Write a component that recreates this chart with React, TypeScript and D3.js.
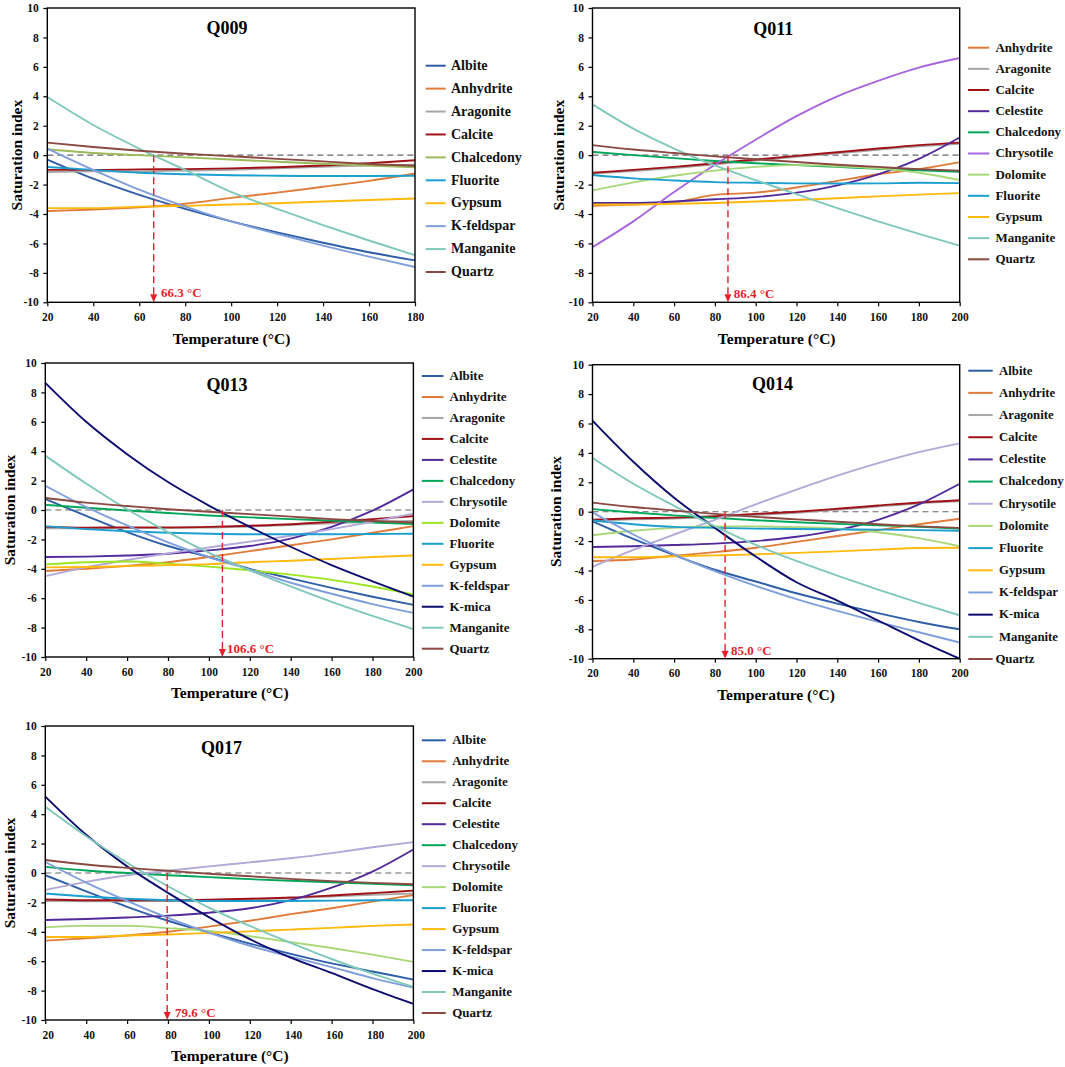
import React, { useEffect, useRef } from "react";
import * as d3 from "d3";

const temps180 = [20, 40, 60, 80, 100, 120, 140, 160, 180];
const temps200 = [20, 40, 60, 80, 100, 120, 140, 160, 180, 200];
const yTicks = [-10, -8, -6, -4, -2, 0, 2, 4, 6, 8, 10];

const q009: [string, number[]][] = [
  ["Albite", [-0.3, -1.6, -2.7, -3.65, -4.5, -5.25, -5.95, -6.6, -7.15]],
  ["Anhydrite", [-3.8, -3.7, -3.55, -3.3, -2.9, -2.55, -2.15, -1.75, -1.25]],
  ["Aragonite", [-1.15, -1.1, -1.1, -1.05, -1.0, -0.9, -0.8, -0.7, -0.65]],
  ["Calcite", [-1.0, -1.0, -0.97, -0.95, -0.9, -0.82, -0.7, -0.55, -0.35]],
  ["Chalcedony", [0.4, 0.15, 0, -0.15, -0.3, -0.45, -0.58, -0.7, -0.82]],
  ["Fluorite", [-0.8, -1.0, -1.2, -1.3, -1.37, -1.4, -1.42, -1.42, -1.4]],
  ["Gypsum", [-3.6, -3.6, -3.5, -3.45, -3.35, -3.27, -3.15, -3.05, -2.95]],
  ["K-feldspar", [0.45, -1.0, -2.35, -3.5, -4.5, -5.35, -6.15, -6.9, -7.6]],
  ["Manganite", [3.95, 2.05, 0.45, -1.0, -2.5, -3.65, -4.75, -5.8, -6.8]],
  ["Quartz", [0.85, 0.55, 0.3, 0.1, -0.07, -0.25, -0.42, -0.6, -0.72]],
];

const q011: [string, number[]][] = [
  ["Anhydrite", [-3.45, -3.35, -3.2, -2.7, -2.55, -2.2, -1.75, -1.3, -0.95, -0.47]],
  ["Aragonite", [-1.25, -1.08, -0.87, -0.62, -0.37, -0.12, 0.12, 0.37, 0.6, 0.77]],
  ["Calcite", [-1.2, -1.0, -0.8, -0.55, -0.3, -0.05, 0.2, 0.45, 0.68, 0.85]],
  ["Celestite", [-3.25, -3.25, -3.15, -3.0, -2.85, -2.55, -2.05, -1.3, -0.25, 1.2]],
  ["Chalcedony", [0.22, 0, -0.2, -0.4, -0.55, -0.68, -0.8, -0.92, -1.03, -1.13]],
  ["Chrysotile", [-6.25, -4.5, -2.5, -0.65, 1.05, 2.65, 4.0, 5.05, 5.95, 6.6]],
  ["Dolomite", [-2.4, -1.85, -1.4, -1.05, -0.8, -0.68, -0.75, -0.9, -1.2, -1.7]],
  ["Fluorite", [-1.35, -1.58, -1.72, -1.83, -1.88, -1.92, -1.93, -1.92, -1.88, -1.9]],
  ["Gypsum", [-3.35, -3.35, -3.3, -3.25, -3.15, -3.05, -2.93, -2.8, -2.68, -2.58]],
  ["Manganite", [3.45, 1.8, 0.45, -0.7, -1.7, -2.65, -3.6, -4.5, -5.35, -6.15]],
  ["Quartz", [0.68, 0.38, 0.15, -0.08, -0.28, -0.47, -0.65, -0.8, -0.95, -1.05]],
];

const q013: [string, number[]][] = [
  ["Albite", [0.75, -0.4, -1.5, -2.45, -3.2, -4.0, -4.65, -5.3, -5.9, -6.45]],
  ["Anhydrite", [-4.15, -4.0, -3.8, -3.55, -3.2, -2.8, -2.4, -2.0, -1.55, -1.1]],
  ["Aragonite", [-1.25, -1.25, -1.22, -1.22, -1.2, -1.12, -1.02, -0.9, -0.8, -0.75]],
  ["Calcite", [-1.15, -1.2, -1.18, -1.18, -1.15, -1.07, -0.97, -0.8, -0.62, -0.42]],
  ["Celestite", [-3.2, -3.17, -3.1, -2.98, -2.75, -2.45, -1.95, -1.15, -0.05, 1.4]],
  ["Chalcedony", [0.35, 0.15, -0.03, -0.2, -0.37, -0.5, -0.62, -0.72, -0.85, -0.95]],
  ["Chrysotile", [-4.5, -3.9, -3.4, -2.95, -2.55, -2.15, -1.75, -1.3, -0.8, -0.25]],
  ["Dolomite", [-3.7, -3.55, -3.5, -3.65, -3.85, -4.1, -4.4, -4.75, -5.2, -5.75]],
  ["Fluorite", [-1.1, -1.3, -1.45, -1.55, -1.62, -1.65, -1.65, -1.65, -1.63, -1.62]],
  ["Gypsum", [-3.9, -3.88, -3.82, -3.75, -3.68, -3.55, -3.45, -3.33, -3.2, -3.1]],
  ["K-feldspar", [1.65, 0.2, -1.05, -2.2, -3.2, -4.05, -4.95, -5.7, -6.4, -7.0]],
  ["K-mica", [8.65, 6.0, 3.8, 1.9, 0.3, -1.15, -2.5, -3.75, -4.85, -5.9]],
  ["Manganite", [3.7, 1.8, 0.05, -1.5, -2.9, -4.1, -5.2, -6.25, -7.2, -8.1]],
  ["Quartz", [0.82, 0.5, 0.27, 0.05, -0.12, -0.28, -0.45, -0.62, -0.75, -0.85]],
];

const q014: [string, number[]][] = [
  ["Albite", [-0.65, -1.85, -2.95, -3.95, -4.75, -5.55, -6.25, -6.9, -7.5, -8.0]],
  ["Anhydrite", [-3.35, -3.25, -3.0, -2.75, -2.45, -2.05, -1.65, -1.25, -0.85, -0.48]],
  ["Aragonite", [-0.62, -0.52, -0.47, -0.37, -0.22, -0.07, 0.13, 0.35, 0.56, 0.7]],
  ["Calcite", [-0.55, -0.45, -0.4, -0.3, -0.15, 0, 0.2, 0.42, 0.63, 0.78]],
  ["Celestite", [-2.4, -2.35, -2.27, -2.17, -2.0, -1.7, -1.25, -0.55, 0.5, 1.9]],
  ["Chalcedony", [0.18, -0.05, -0.25, -0.42, -0.58, -0.72, -0.83, -0.93, -1.02, -1.15]],
  ["Chrysotile", [-3.75, -2.6, -1.55, -0.55, 0.5, 1.5, 2.45, 3.3, 4.05, 4.65]],
  ["Dolomite", [-1.6, -1.3, -1.1, -1.0, -1.0, -1.05, -1.15, -1.4, -1.8, -2.35]],
  ["Fluorite", [-0.6, -0.85, -1.03, -1.1, -1.15, -1.18, -1.2, -1.22, -1.25, -1.3]],
  ["Gypsum", [-3.1, -3.1, -3.03, -2.97, -2.9, -2.8, -2.7, -2.58, -2.47, -2.45]],
  ["K-feldspar", [-0.05, -1.55, -2.9, -4.05, -5.05, -5.95, -6.75, -7.5, -8.2, -8.9]],
  ["K-mica", [6.2, 3.4, 0.95, -1.1, -3.05, -4.8, -6.05, -7.4, -8.75, -10]],
  ["Manganite", [3.65, 1.9, 0.4, -1.0, -2.25, -3.35, -4.35, -5.3, -6.2, -7.05]],
  ["Quartz", [0.62, 0.32, 0.08, -0.15, -0.35, -0.52, -0.68, -0.85, -1.0, -1.1]],
];

const q017: [string, number[]][] = [
  ["Albite", [-0.15, -1.25, -2.3, -3.25, -4.05, -4.8, -5.5, -6.15, -6.7, -7.25]],
  ["Anhydrite", [-4.6, -4.45, -4.25, -4.0, -3.65, -3.25, -2.8, -2.4, -1.95, -1.5]],
  ["Aragonite", [-1.9, -1.92, -1.92, -1.9, -1.88, -1.8, -1.72, -1.6, -1.48, -1.4]],
  ["Calcite", [-1.8, -1.85, -1.85, -1.85, -1.82, -1.75, -1.67, -1.53, -1.37, -1.2]],
  ["Celestite", [-3.2, -3.13, -3.03, -2.9, -2.7, -2.4, -1.85, -1.0, 0.1, 1.6]],
  ["Chalcedony", [0.42, 0.17, 0, -0.15, -0.28, -0.42, -0.53, -0.63, -0.73, -0.83]],
  ["Chrysotile", [-1.15, -0.6, -0.15, 0.15, 0.45, 0.72, 1.0, 1.35, 1.75, 2.1]],
  ["Dolomite", [-3.7, -3.6, -3.6, -3.75, -3.95, -4.3, -4.7, -5.1, -5.55, -6.05]],
  ["Fluorite", [-1.4, -1.6, -1.75, -1.85, -1.9, -1.9, -1.9, -1.88, -1.85, -1.85]],
  ["Gypsum", [-4.35, -4.35, -4.25, -4.18, -4.08, -3.97, -3.85, -3.73, -3.6, -3.5]],
  ["K-feldspar", [0.75, -0.65, -1.9, -3.05, -4.05, -4.95, -5.7, -6.4, -7.15, -7.8]],
  ["K-mica", [5.2, 2.6, 0.45, -1.35, -3.0, -4.5, -5.75, -6.8, -7.9, -8.9]],
  ["Manganite", [4.5, 2.5, 0.7, -0.9, -2.35, -3.6, -4.75, -5.85, -6.85, -7.75]],
  ["Quartz", [0.88, 0.58, 0.35, 0.15, -0.05, -0.22, -0.4, -0.55, -0.67, -0.77]],
];

const colors: Record<string, string> = {
  Albite: "#2f5ea8",
  Anhydrite: "#e07b39",
  Aragonite: "#a6a6a6",
  Calcite: "#a01218",
  Celestite: "#52299a",
  Chalcedony: "#00a65a",
  Chrysotile: "#b3a8d8",
  Dolomite: "#a8d878",
  Fluorite: "#1a9fd0",
  Gypsum: "#ffb90f",
  "K-feldspar": "#7f9fdc",
  "K-mica": "#0b0b70",
  Manganite: "#7fc8ba",
  Quartz: "#8a4a42",
};

// layout of each panel on the page
const panels = [
  {
    name: "Q009", temps: temps180, series: q009, temp: 66.3,
    l: 47.3, r: 415, t: 8, b: 302.3,
    titleX: 227, titleY: 28, yLabelX: 16.9, xLabelX: 231.5,
    legendLine: [425.7, 445.7], legendText: 451, legendY: [65.7, 272], legendSize: 14,
    noteX: 161, noteY: 292.7, tickShift: 0,
    override: { Chalcedony: "#9bbb59" },
  },
  {
    name: "Q011", temps: temps200, series: q011, temp: 86.4,
    l: 592.5, r: 959.7, t: 8, b: 302.3,
    titleX: 773.3, titleY: 28.5, yLabelX: 558.7, xLabelX: 776.7,
    legendLine: [968, 989.3], legendText: 995.4, legendY: [47.7, 259.3], legendSize: 13,
    noteX: 733.7, noteY: 293, tickShift: 0,
    override: { Chrysotile: "#a865e0" },
  },
  {
    name: "Q013", temps: temps200, series: q013, temp: 106.6,
    l: 45.3, r: 413.4, t: 363, b: 657,
    titleX: 227, titleY: 384.3, yLabelX: 9.5, xLabelX: 229.8,
    legendLine: [421.8, 443.5], legendText: 449.5, legendY: [376, 648.7], legendSize: 13,
    noteX: 227, noteY: 648, tickShift: 0,
    override: { Dolomite: "#9be61e" },
  },
  {
    name: "Q014", temps: temps200, series: q014, temp: 85.0,
    l: 592.5, r: 959.7, t: 364.7, b: 658.7,
    titleX: 772.6, titleY: 384, yLabelX: 556, xLabelX: 776,
    legendLine: [968.3, 992.7], legendText: 999, legendY: [370.7, 659], legendSize: 12.8,
    noteX: 731, noteY: 650.7, tickShift: 0,
    override: {},
  },
  {
    name: "Q017", temps: temps200, series: q017, temp: 79.6,
    l: 45.3, r: 413.4, t: 726, b: 1020,
    titleX: 221.4, titleY: 748, yLabelX: 9.5, xLabelX: 229.8,
    legendLine: [421.8, 445.8], legendText: 452.2, legendY: [740.3, 1013], legendSize: 13,
    noteX: 175, noteY: 1012.3, tickShift: 2.5,
    override: {},
  },
];

const FONT = "'Liberation Serif', 'Times New Roman', serif";
const RED = "#e81f2b";

const App = () => {
  const svgRef = useRef<SVGSVGElement>(null);

  useEffect(() => {
    const svg = d3.select(svgRef.current);
    svg.selectAll("*").remove();

    panels.forEach((p) => {
      const g = svg.append("g").attr("font-family", FONT).attr("font-weight", "bold");
      const x = d3.scaleLinear().domain([p.temps[0], p.temps[p.temps.length - 1]]).range([p.l, p.r]);
      const y = d3.scaleLinear().domain([-10, 10]).range([p.b, p.t]);
      const colorOf = (n: string) => (p.override as Record<string, string>)[n] || colors[n];

      // zero reference line
      g.append("line")
        .attr("x1", x.range()[0])
        .attr("x2", x.range()[1])
        .attr("y1", y(0))
        .attr("y2", y(0))
        .attr("stroke", "#666")
        .attr("stroke-width", 1.1)
        .attr("stroke-dasharray", "6 4");

      const line = d3
        .line<number>()
        .x((_, i) => x(p.temps[i]))
        .y((d) => y(d))
        .curve(d3.curveMonotoneX);

      p.series.forEach(([name, values]) => {
        g.append("path")
          .attr("d", line(values))
          .attr("fill", "none")
          .attr("stroke", colorOf(name))
          .attr("stroke-width", 1.9);
      });

      // equilibrium temperature marker
      const arrowTop = p.b - 8;
      g.append("line")
        .attr("x1", x(p.temp))
        .attr("x2", x(p.temp))
        .attr("y1", y(0))
        .attr("y2", arrowTop)
        .attr("stroke", RED)
        .attr("stroke-width", 1.4)
        .attr("stroke-dasharray", "7 4");
      g.append("path")
        .attr("d", d3.line()([[x(p.temp) - 3.5, arrowTop], [x(p.temp) + 3.5, arrowTop], [x(p.temp), p.b]]) + "Z")
        .attr("fill", RED);
      g.append("text")
        .attr("x", p.noteX)
        .attr("y", p.noteY)
        .attr("dy", "0.35em")
        .attr("font-size", 13)
        .attr("fill", RED)
        .text(`${p.temp.toFixed(1)} °C`);

      // frame
      g.append("rect")
        .attr("x", p.l)
        .attr("y", p.t)
        .attr("width", p.r - p.l)
        .attr("height", p.b - p.t)
        .attr("fill", "none")
        .attr("stroke", "#000")
        .attr("stroke-width", 1.4);

      // axes
      const xAxis = g
        .append("g")
        .attr("transform", `translate(0,${p.b})`)
        .call(d3.axisBottom(x).tickValues(p.temps).tickSize(4).tickPadding(6.5).tickFormat(d3.format("d")));
      const yAxis = g
        .append("g")
        .attr("transform", `translate(${p.l},0)`)
        .call(d3.axisLeft(y).tickValues(yTicks).tickSize(4).tickPadding(4.5).tickFormat(d3.format("d")));
      [xAxis, yAxis].forEach((a) => {
        a.attr("font-family", FONT).attr("font-size", 11.5);
        a.select(".domain").remove();
        a.selectAll("line").attr("stroke", "#000").attr("stroke-width", 1.2);
        a.selectAll("text").attr("fill", "#111").style("font-weight", "bold");
      });
      xAxis.selectAll("text").attr("dx", p.tickShift);
      // plain hyphen for negative values, as in the picture
      yAxis.selectAll("text").text((d: any) => String(d));

      // titles
      g.append("text")
        .attr("x", p.titleX)
        .attr("y", p.titleY)
        .attr("dy", "0.35em")
        .attr("text-anchor", "middle")
        .attr("font-size", 18)
        .text(p.name);
      g.append("text")
        .attr("x", p.xLabelX)
        .attr("y", p.b + 36)
        .attr("dy", "0.35em")
        .attr("text-anchor", "middle")
        .attr("font-size", 15.5)
        .text("Temperature (°C)");
      g.append("text")
        .attr("transform", `translate(${p.yLabelX},${(p.t + p.b) / 2}) rotate(-90)`)
        .attr("dy", "0.35em")
        .attr("text-anchor", "middle")
        .attr("font-size", 15.5)
        .text("Saturation index");

      // legend
      const legendY = d3
        .scalePoint<string>()
        .domain(p.series.map((s) => s[0]))
        .range(p.legendY as [number, number]);
      p.series.forEach(([name]) => {
        g.append("line")
          .attr("x1", p.legendLine[0])
          .attr("x2", p.legendLine[1])
          .attr("y1", legendY(name)!)
          .attr("y2", legendY(name)!)
          .attr("stroke", colorOf(name))
          .attr("stroke-width", 2);
        g.append("text")
          .attr("x", p.name === "Q014" && name === "Quartz" ? p.legendText - 3.6 : p.legendText)
          .attr("y", legendY(name)!)
          .attr("dy", "0.3em")
          .attr("font-size", p.legendSize)
          .attr("fill", "#111")
          .text(name);
      });
    });
  }, []);

  return (
    <svg
      ref={svgRef}
      width={1065}
      height={1067}
      style={{ position: "absolute", left: 0, top: 0, background: "#fff" }}
    />
  );
};

export default App;
